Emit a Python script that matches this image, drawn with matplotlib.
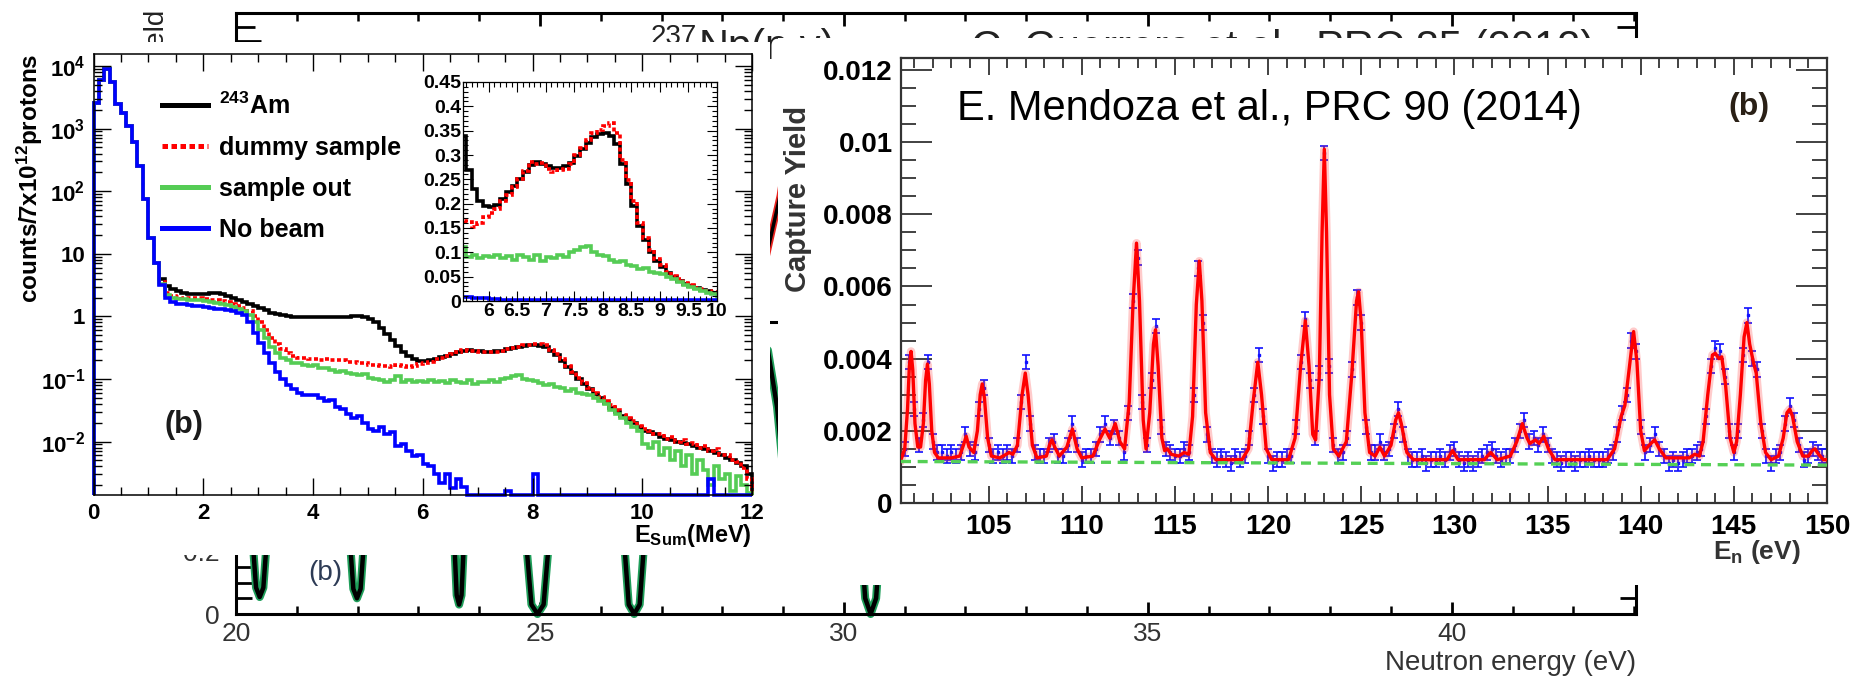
"""Composite slide figure: 243Am sum-energy spectra and a capture-yield scan
laid over a partly hidden 237Np(n,g) figure."""
from __future__ import annotations

import matplotlib

matplotlib.use("Agg")
import matplotlib.pyplot as plt
import numpy as np
from matplotlib.lines import Line2D
from matplotlib.patches import Rectangle

W, H = 1864, 677

# --- left panel: E_Sum spectra, 0.1 MeV bins from 0 to 12 MeV ---------------
ESUM_EDGES = np.linspace(0.0, 12.0, 121)
AM243 = [
    2600, 6000, 9000, 5500, 2500, 1800, 1100, 600, 250, 75,
    18, 7, 4.0, 3.1, 2.7, 2.5, 2.4, 2.3, 2.3, 2.3,
    2.3, 2.35, 2.35, 2.25, 2.1, 1.95, 1.8, 1.7, 1.6, 1.45,
    1.35, 1.25, 1.15, 1.1, 1.05, 1.0, 0.98, 0.97, 0.96, 0.96,
    0.96, 0.96, 0.96, 0.96, 0.96, 0.97, 0.99, 1.0, 1.0, 0.97,
    0.9, 0.8, 0.66, 0.52, 0.42, 0.34, 0.27, 0.23, 0.205, 0.195,
    0.193, 0.198, 0.21, 0.223, 0.236, 0.25, 0.265, 0.28, 0.286, 0.282,
    0.277, 0.274, 0.274, 0.278, 0.284, 0.298, 0.312, 0.325, 0.336, 0.343,
    0.346, 0.34, 0.322, 0.282, 0.24, 0.195, 0.155, 0.125, 0.1, 0.082,
    0.07, 0.058, 0.05, 0.042, 0.035, 0.03, 0.026, 0.023, 0.02, 0.017,
    0.015, 0.014, 0.013, 0.012, 0.011, 0.0105, 0.01, 0.0095, 0.009, 0.0085,
    0.008, 0.0075, 0.007, 0.0065, 0.006, 0.0055, 0.005, 0.0045, 0.004, 0.003,
]
DUMMY = [
    2600, 6000, 9000, 5500, 2500, 1800, 1100, 600, 250, 75,
    18, 7, 3.6, 2.4, 2.15, 2.05, 2.0, 2.0, 2.0, 1.95,
    1.9, 1.85, 1.8, 1.75, 1.68, 1.58, 1.47, 1.36, 1.2, 1.0,
    0.8, 0.6, 0.45, 0.36, 0.3, 0.26, 0.23, 0.22, 0.22, 0.21,
    0.21, 0.2, 0.21, 0.2, 0.2, 0.2, 0.19, 0.19, 0.18, 0.18,
    0.17, 0.17, 0.16, 0.16, 0.155, 0.165, 0.163, 0.153, 0.16, 0.172,
    0.18, 0.19, 0.205, 0.218, 0.235, 0.25, 0.268, 0.285, 0.282, 0.283,
    0.272, 0.265, 0.27, 0.272, 0.282, 0.3, 0.315, 0.33, 0.345, 0.352,
    0.36, 0.365, 0.345, 0.29, 0.248, 0.205, 0.16, 0.13, 0.105, 0.086,
    0.073, 0.06, 0.052, 0.045, 0.038, 0.032, 0.027, 0.024, 0.021, 0.018,
    0.016, 0.015, 0.013, 0.013, 0.011, 0.012, 0.010, 0.0105, 0.009, 0.0095,
    0.008, 0.0085, 0.007, 0.0075, 0.006, 0.0062, 0.005, 0.0048, 0.0038, 0.0025,
]
SAMPLE_OUT = [
    2600, 6000, 9000, 5500, 2500, 1800, 1100, 600, 250, 75,
    18, 7, 3.3, 2.2, 1.95, 1.9, 1.87, 1.85, 1.85, 1.8,
    1.75, 1.7, 1.65, 1.6, 1.5, 1.4, 1.3, 1.2, 1.05, 0.8,
    0.6, 0.45, 0.33, 0.26, 0.22, 0.2, 0.18, 0.18, 0.17, 0.16,
    0.17, 0.15, 0.15, 0.14, 0.13, 0.135, 0.125, 0.12, 0.115, 0.12,
    0.105, 0.1, 0.095, 0.09, 0.095, 0.11, 0.09, 0.095, 0.088, 0.092,
    0.09, 0.095, 0.088, 0.093, 0.085, 0.095, 0.09, 0.085, 0.095, 0.082,
    0.09, 0.088, 0.095, 0.09, 0.1, 0.105, 0.11, 0.114, 0.1, 0.095,
    0.092, 0.085, 0.08, 0.082, 0.075, 0.072, 0.065, 0.068, 0.06, 0.058,
    0.055, 0.05, 0.045, 0.04, 0.032, 0.028, 0.024, 0.02, 0.017, 0.015,
    0.009, 0.008, 0.01, 0.006, 0.008, 0.005, 0.007, 0.004, 0.006, 0.003,
    0.005, 0.0035, 0.002, 0.004, 0.0025, 0.003, 0.0016, 0.0028, 0.002, 0.0015,
]
NO_BEAM = [
    2600, 6000, 9000, 5500, 2500, 1800, 1100, 600, 250, 75,
    18, 7, 3.2, 2.0, 1.7, 1.6, 1.55, 1.5, 1.45, 1.45,
    1.4, 1.35, 1.3, 1.3, 1.25, 1.2, 1.15, 1.05, 0.8, 0.55,
    0.38, 0.26, 0.18, 0.13, 0.1, 0.08, 0.068, 0.06, 0.056, 0.055,
    0.055, 0.05, 0.045, 0.046, 0.036, 0.033, 0.028, 0.024, 0.026, 0.02,
    0.016, 0.015, 0.017, 0.013, 0.014, 0.0085, 0.009, 0.007, 0.0058, 0.006,
    0.0044, 0.004, 0.003, 0.0022, 0.003, 0.0018, 0.0025, 0.0019, 0, 0,
    0, 0, 0, 0, 0, 0.0016, 0, 0, 0, 0,
    0.003, 0, 0, 0, 0, 0, 0, 0, 0, 0,
    0, 0, 0, 0, 0, 0, 0, 0, 0, 0,
    0, 0, 0, 0, 0, 0, 0, 0, 0, 0,
    0, 0, 0.0025, 0, 0, 0, 0, 0, 0, 0,
]
LEGEND_LABELS = [r"$^{243}$Am", "dummy sample", "sample out", "No beam"]
LEFT_XTICKS = [0, 2, 4, 6, 8, 10, 12]
LEFT_XTICKLABELS = ["0", "2", "4", "6", "8", "10", "12"]
LEFT_YTICKS = [1e-2, 1e-1, 1, 10, 1e2, 1e3, 1e4]
LEFT_YTICKLABELS = [r"$10^{-2}$", r"$10^{-1}$", "1", "10",
                    r"$10^{2}$", r"$10^{3}$", r"$10^{4}$"]
INSET_XTICKS = [6, 6.5, 7, 7.5, 8, 8.5, 9, 9.5, 10]
INSET_XTICKLABELS = ["6", "6.5", "7", "7.5", "8", "8.5", "9", "9.5", "10"]
INSET_YTICKS = [0, 0.05, 0.1, 0.15, 0.2, 0.25, 0.3, 0.35, 0.4, 0.45]
INSET_YTICKLABELS = ["0", "0.05", "0.1", "0.15", "0.2", "0.25", "0.3",
                     "0.35", "0.4", "0.45"]

# --- right panel: capture yield (units of 1e-3), data every 0.25 eV ---------
YIELD_START, YIELD_STEP = 100.5, 0.25
YIELD_DATA = [
    1.5, 3.9, 2.6, 1.6, 2.3, 3.9, 1.7, 1.4,
    1.4, 1.3, 1.4, 1.3, 1.4, 1.9, 1.5, 1.4,
    2.6, 3.2, 1.6, 1.3, 1.4, 1.3, 1.4, 1.3,
    1.6, 2.8, 3.9, 2.2, 1.4, 1.3, 1.3, 1.6,
    1.7, 1.3, 1.3, 1.6, 2.2, 1.6, 1.2, 1.3,
    1.3, 1.5, 1.9, 2.2, 1.8, 2.1, 1.8, 1.4,
    2.5, 5.6, 6.8, 2.8, 1.6, 3.4, 4.9, 2.1,
    1.5, 1.4, 1.3, 1.3, 1.5, 1.4, 3.0, 6.5,
    5.0, 1.9, 1.3, 1.2, 1.3, 1.2, 1.1, 1.3,
    1.2, 1.3, 1.8, 3.0, 4.1, 2.4, 1.3, 1.1,
    1.2, 1.2, 1.3, 1.3, 2.1, 3.9, 5.1, 3.4,
    1.8, 3.6, 9.7, 3.8, 1.6, 1.3, 1.4, 1.8,
    3.7, 5.7, 5.0, 2.1, 1.4, 1.4, 1.7, 1.4,
    1.5, 2.0, 2.6, 1.9, 1.3, 1.2, 1.2, 1.3,
    1.1, 1.2, 1.2, 1.3, 1.2, 1.4, 1.5, 1.2,
    1.1, 1.2, 1.1, 1.2, 1.3, 1.4, 1.5, 1.3,
    1.2, 1.3, 1.3, 1.6, 2.0, 2.3, 1.7, 1.8,
    1.6, 1.9, 1.6, 1.3, 1.2, 1.1, 1.2, 1.2,
    1.1, 1.2, 1.2, 1.3, 1.2, 1.2, 1.2, 1.3,
    1.4, 1.9, 2.5, 3.0, 4.5, 4.2, 2.1, 1.4,
    1.6, 1.9, 1.5, 1.3, 1.1, 1.2, 1.1, 1.2,
    1.3, 1.3, 1.4, 1.5, 2.4, 3.8, 4.3, 4.2,
    3.5, 2.0, 1.4, 2.0, 4.1, 5.2, 4.0, 3.7,
    2.0, 1.3, 1.1, 1.3, 1.4, 2.2, 2.7, 2.3,
    1.6, 1.2, 1.3, 1.5, 1.4, 1.3, 1.3,
]
YIELD_ERR = 0.2
FIT_E = [
    100.3, 100.5, 100.65, 100.75, 100.84, 100.93, 101.05, 101.2, 101.35, 101.5,
    101.62, 101.72, 101.82, 101.95, 102.1, 102.3, 103.0, 103.45, 103.65, 103.8,
    103.95, 104.2, 104.4, 104.55, 104.66, 104.78, 104.95, 105.15, 105.6, 105.95,
    106.1, 106.3, 106.55, 106.8, 106.97, 107.12, 107.35, 107.6, 108.1, 108.3,
    108.4, 108.55, 108.8, 109.2, 109.5, 109.75, 110.0, 110.6, 110.95, 111.25,
    111.5, 111.8, 112.05, 112.3, 112.55, 112.75, 112.94, 113.1, 113.3, 113.45,
    113.65, 113.85, 113.96, 114.1, 114.3, 114.45, 114.6, 114.8, 115.2, 115.5,
    115.75, 115.95, 116.15, 116.31, 116.45, 116.65, 116.9, 117.2, 118.6, 118.95,
    119.2, 119.45, 119.65, 119.9, 120.2, 121.1, 121.45, 121.75, 122.0, 122.2,
    122.4, 122.55, 122.75, 122.9, 123.02, 123.14, 123.3, 123.5, 123.8, 124.2,
    124.5, 124.75, 124.86, 125.0, 125.2, 125.45, 125.75, 126.0, 126.25, 126.6,
    126.85, 127.0, 127.15, 127.45, 127.8, 129.6, 129.9, 130.2, 131.6, 131.95,
    132.3, 133.0, 133.35, 133.65, 133.9, 134.05, 134.35, 134.55, 134.8, 135.05,
    135.4, 138.2, 138.6, 138.95, 139.15, 139.4, 139.62, 139.8, 140.0, 140.2,
    140.45, 140.75, 141.0, 141.35, 142.6, 142.9, 143.15, 143.35, 143.6, 143.85,
    144.0, 144.2, 144.35, 144.55, 144.8, 145.0, 145.15, 145.35, 145.55, 145.7,
    145.85, 146.05, 146.2, 146.45, 146.7, 147.0, 147.4, 147.65, 147.85, 148.0,
    148.15, 148.4, 148.7, 149.0, 149.2, 149.35, 149.55, 149.8, 150.0,
]
FIT_Y = [
    1.2, 1.5, 2.6, 3.8, 4.2, 3.7, 2.2, 1.55, 1.55, 2.2,
    3.4, 3.85, 3.3, 2.0, 1.4, 1.25, 1.25, 1.3, 1.6, 1.85,
    1.55, 1.4, 2.0, 3.0, 3.3, 2.9, 1.8, 1.3, 1.25, 1.35,
    1.4, 1.35, 1.6, 3.0, 3.6, 3.0, 1.6, 1.25, 1.3, 1.65,
    1.75, 1.55, 1.3, 1.55, 2.05, 1.5, 1.25, 1.3, 1.75, 2.05,
    1.8, 2.2, 1.7, 1.5, 2.8, 5.5, 7.2, 5.6, 2.3, 1.5,
    2.5, 4.4, 4.8, 3.8, 1.8, 1.45, 1.5, 1.35, 1.3, 1.4,
    1.35, 2.4, 5.5, 6.7, 5.6, 2.5, 1.4, 1.2, 1.2, 1.5,
    2.8, 3.9, 3.0, 1.5, 1.2, 1.2, 1.8, 3.8, 5.05, 3.8,
    1.9, 1.75, 3.5, 7.5, 9.8, 7.5, 3.0, 1.5, 1.3, 1.7,
    3.6, 5.6, 5.85, 5.0, 2.5, 1.4, 1.3, 1.55, 1.3, 1.6,
    2.3, 2.5, 2.2, 1.4, 1.2, 1.2, 1.45, 1.2, 1.2, 1.4,
    1.2, 1.3, 1.7, 2.2, 1.8, 1.65, 1.75, 1.65, 1.85, 1.5,
    1.2, 1.2, 1.5, 2.4, 2.7, 3.8, 4.75, 3.9, 2.0, 1.45,
    1.6, 1.75, 1.5, 1.25, 1.25, 1.35, 1.3, 1.7, 3.0, 4.1,
    4.15, 4.0, 4.05, 3.3, 1.8, 1.4, 1.7, 3.0, 4.6, 5.0,
    4.4, 3.9, 3.6, 2.2, 1.4, 1.2, 1.3, 1.8, 2.5, 2.6,
    2.4, 1.7, 1.3, 1.3, 1.45, 1.5, 1.35, 1.2, 1.2,
]
BKG_E = [100.3, 150.0]
BKG_Y = [1.15, 1.05]
RIGHT_XTICKS = [105, 110, 115, 120, 125, 130, 135, 140, 145, 150]
RIGHT_XTICKLABELS = ["105", "110", "115", "120", "125", "130", "135",
                     "140", "145", "150"]
RIGHT_YTICKS = [0, 0.002, 0.004, 0.006, 0.008, 0.01, 0.012]
RIGHT_YTICKLABELS = ["0", "0.002", "0.004", "0.006", "0.008", "0.01", "0.012"]

# --- background 237Np figure (mostly hidden) -----------------------------------
NP_A_E = [20.0, 28.3, 28.55, 28.62, 28.69, 28.95, 29.3, 43.03]
NP_A_Y = [0.95, 0.95, 0.2, 0.1, 0.2, 0.45, 0.95, 0.95]
NP_B_E = [
    20.0, 20.26, 20.29, 20.33, 20.39, 20.45, 20.49, 20.52, 20.84,
    21.54, 21.86, 21.89, 21.93, 21.99, 22.05, 22.09, 22.12, 22.44,
    23.22, 23.58, 23.60, 23.63, 23.67, 23.71, 23.74, 23.76, 24.12,
    24.51, 24.75, 24.79, 24.86, 24.96, 25.06, 25.13, 25.17, 25.41,
    26.10, 26.36, 26.40, 26.46, 26.55, 26.64, 26.70, 26.74, 27.00,
    28.40, 28.75, 28.90, 29.02, 29.10, 29.18, 29.30, 29.45, 29.80,
    29.99, 30.26, 30.30, 30.35, 30.44, 30.53, 30.58, 30.62, 30.89,
    43.03,
]
NP_B_Y = [
    0.9, 0.5, 0.19, 0.084, 0.054, 0.084, 0.19, 0.5, 0.9,
    0.9, 0.5, 0.19, 0.08, 0.05, 0.08, 0.19, 0.5, 0.9,
    0.9, 0.5, 0.19, 0.06, 0.03, 0.06, 0.19, 0.5, 0.9,
    0.9, 0.5, 0.19, 0.03, 0.0, 0.03, 0.19, 0.5, 0.9,
    0.9, 0.5, 0.19, 0.03, 0.0, 0.03, 0.19, 0.5, 0.9,
    0.9, 0.84, 0.66, 0.42, 0.35, 0.42, 0.66, 0.84, 0.9,
    0.9, 0.5, 0.19, 0.05, 0.0, 0.05, 0.19, 0.5, 0.9,
    0.9,
]
BG_XTICKS = [20, 25, 30, 35, 40]
BG_XTICKLABELS = ["20", "25", "30", "35", "40"]
BG_YTICKS = [0, 0.2, 0.4, 0.6, 0.8]
# only the lowest labels of the covered axis are visible
BG_YTICKLABELS = ["0", "0.2", "", "", ""]


def px_rect(left, top, right, bottom):
    """Figure-fraction rectangle from pixel edges measured from the top-left."""
    return [left / W, 1 - bottom / H, (right - left) / W, (bottom - top) / H]


def fx(x):
    return x / W


def fy(y):
    return 1 - y / H


def draw_background(fig):
    grey = "#333333"
    bg_a = fig.add_axes(px_rect(236, 13, 1636, 322), zorder=0)
    bg_b = fig.add_axes(px_rect(236, 322, 1636, 614), zorder=0)

    bg_a.plot(NP_A_E, NP_A_Y, color="#e8231e", lw=5, solid_capstyle="round")
    bg_a.plot(NP_A_E, NP_A_Y, color="black", lw=2.5)
    bg_b.plot(NP_B_E, NP_B_Y, color="#1f9e5a", lw=5.8, clip_on=False,
              solid_joinstyle="round")
    bg_b.plot(NP_B_E, NP_B_Y, color="black", lw=3.2, clip_on=False,
              solid_joinstyle="round")

    for a in (bg_a, bg_b):
        a.set_xlim(20, 43.03)
        a.set_facecolor("none")
        a.set_xticks(np.arange(20, 43.5, 1), minor=True)
        for s in a.spines.values():
            s.set_linewidth(2.2)
    bg_a.set_ylim(0, 1.1)
    bg_b.set_ylim(0, 0.93)
    bg_a.spines["bottom"].set_visible(False)

    bg_a.set_xticks(BG_XTICKS)
    bg_a.set_yticks([0.2, 0.4, 0.6, 0.8, 1.0])
    bg_a.set_yticks(np.arange(0, 1.11, 0.05), minor=True)
    bg_a.tick_params(axis="x", which="both", direction="in", bottom=False,
                     top=True, labelbottom=False)
    bg_a.tick_params(axis="x", which="major", length=9, width=2)
    bg_a.tick_params(axis="x", which="minor", length=6, width=1.8)
    bg_a.tick_params(axis="y", which="both", direction="in", left=True,
                     right=True, labelleft=False, width=2)
    bg_a.tick_params(axis="y", which="major", length=18)
    bg_a.tick_params(axis="y", which="minor", length=14)

    bg_b.set_xticks(BG_XTICKS)
    bg_b.set_xticklabels(BG_XTICKLABELS, fontsize=19, color=grey)
    bg_b.set_yticks(BG_YTICKS)
    bg_b.set_yticklabels(BG_YTICKLABELS, fontsize=19, color=grey)
    bg_b.set_yticks(np.arange(0, 0.91, 0.05), minor=True)
    bg_b.tick_params(axis="x", which="both", direction="in", top=False)
    bg_b.tick_params(axis="x", which="major", length=9, width=2, pad=6)
    bg_b.tick_params(axis="x", which="minor", length=6, width=1.8)
    bg_b.tick_params(axis="y", which="both", direction="in", left=True,
                     right=True, width=2)
    bg_b.tick_params(axis="y", which="major", length=29, pad=12)
    bg_b.tick_params(axis="y", which="minor", length=11.5)

    bg_b.text(1.0, -0.168, "Neutron energy (eV)", transform=bg_b.transAxes,
              ha="right", va="center", fontsize=20, color=grey)
    bg_b.text(0.0636, 0.14, "(b)", transform=bg_b.transAxes, ha="center",
              va="center", fontsize=20, color="#2d3b55")

    # titles of the covered figure, only their top edge shows
    bg_a.text(fx(699), fy(59), "Np(n,\u03b3)", transform=fig.transFigure,
              ha="left", va="baseline", fontsize=30, color="#222222")
    bg_a.text(fx(697), fy(44), "237", transform=fig.transFigure,
              ha="right", va="baseline", fontsize=20, color="#222222")
    bg_a.text(fx(971), fy(60), "C. Guerrero et al., PRC 85 (2012)",
              transform=fig.transFigure, ha="left", va="baseline",
              fontsize=30, color="#222222")
    bg_a.text(fx(157), fy(10), "Capture yield", transform=fig.transFigure,
              rotation=90, ha="center", va="top", fontsize=20, color="#222222")


def draw_left(fig):
    ax = fig.add_axes(px_rect(93.5, 53.5, 752, 495), zorder=2)
    floor = 1.4e-3
    styles = [
        (AM243, "black", "-"),
        (DUMMY, "#ff0000", (0, (1.1, 0.7))),
        (SAMPLE_OUT, "#55cc55", "-"),
        (NO_BEAM, "#0000ff", "-"),
    ]
    for vals, color, ls in styles:
        ax.stairs(np.maximum(vals, floor), ESUM_EDGES, baseline=floor,
                  color=color, lw=2.6, linestyle=ls, clip_on=False)
    ax.set_yscale("log")
    ax.set_xlim(0, 12)
    ax.set_ylim(floor, 10 ** 4.2)

    ax.set_xticks(LEFT_XTICKS)
    ax.set_xticklabels(LEFT_XTICKLABELS, fontsize=16, fontweight="bold")
    ax.set_xticks(np.arange(0, 12.01, 0.5), minor=True)
    ax.set_yticks(LEFT_YTICKS)
    ax.set_yticklabels(LEFT_YTICKLABELS, fontsize=16, fontweight="bold")
    minor_y = [m * 10.0 ** e for e in range(-3, 5) for m in range(2, 10)]
    ax.set_yticks([v for v in minor_y if floor < v < 10 ** 4.2], minor=True)
    ax.yaxis.set_minor_formatter(plt.NullFormatter())
    ax.tick_params(which="both", direction="in", top=True, right=True, width=1)
    ax.tick_params(which="major", length=12, pad=6)
    ax.tick_params(which="minor", length=6)
    for s in ax.spines.values():
        s.set_linewidth(1.1)

    ax.text(-0.097, 0.999, r"counts/7x10$^{12}$protons", transform=ax.transAxes,
            rotation=90, ha="center", va="top", fontsize=17.5, fontweight="bold")
    ax.text(1.0, -0.091, r"E$_{\rm Sum}$(MeV)", transform=ax.transAxes,
            ha="right", va="center", fontsize=17, fontweight="bold")
    ax.text(0.137, 0.159, "(b)", transform=ax.transAxes, ha="center",
            va="center", fontsize=22, fontweight="bold", color="#1a1a1a")

    handles = [Line2D([], [], color=c, lw=3.6, linestyle=ls) for _, c, ls in styles]
    ax.legend(handles, LEGEND_LABELS, loc="upper left",
              bbox_to_anchor=(0.104, 0.912), frameon=False,
              prop={"size": 18, "weight": "bold"}, handlelength=1.85,
              handletextpad=0.45, labelspacing=0.68, borderpad=0,
              borderaxespad=0)

    # zoomed inset 5.5-10 MeV on a linear scale
    axi = fig.add_axes(px_rect(463, 82, 717, 301), zorder=3)
    for vals, color, ls in styles:
        axi.stairs(np.maximum(vals, floor), ESUM_EDGES, baseline=floor,
                   color=color, lw=2.6, linestyle=ls)
    axi.set_xlim(5.55, 10)
    axi.set_ylim(0, 0.45)
    axi.set_xticks(INSET_XTICKS)
    axi.set_xticklabels(INSET_XTICKLABELS, fontsize=14, fontweight="bold")
    axi.set_xticks(np.arange(5.6, 10.01, 0.1), minor=True)
    axi.set_yticks(INSET_YTICKS)
    axi.set_yticklabels(INSET_YTICKLABELS, fontsize=14, fontweight="bold")
    axi.set_yticks(np.arange(0, 0.451, 0.01), minor=True)
    axi.tick_params(which="both", direction="in", top=True, right=True,
                    width=0.8, pad=1.5)
    axi.tick_params(which="major", length=7)
    axi.tick_params(which="minor", length=3.5)
    for s in axi.spines.values():
        s.set_linewidth(0.9)


def draw_right(fig):
    dark = "#333333"
    ax = fig.add_axes(px_rect(901, 58, 1827, 503), zorder=2)
    en = YIELD_START + YIELD_STEP * np.arange(len(YIELD_DATA))
    ax.errorbar(en, np.array(YIELD_DATA) * 1e-3, yerr=YIELD_ERR * 1e-3,
                fmt="s", ms=1.8, color="#1010ff", ecolor="#1010ff",
                elinewidth=1.2, capsize=3, capthick=1.2, zorder=2)
    fit_y = np.array(FIT_Y) * 1e-3
    ax.plot(FIT_E, fit_y, color="#ff3030", lw=6, alpha=0.25, zorder=3)
    ax.plot(FIT_E, fit_y, color="#ff0000", lw=2.4, zorder=4)
    ax.plot(BKG_E, np.array(BKG_Y) * 1e-3, color="#55d055", lw=2.4,
            linestyle=(0, (3, 2)), zorder=5)

    ax.set_xlim(100.3, 150)
    ax.set_ylim(0, 0.01233)
    ax.set_xticks(RIGHT_XTICKS)
    ax.set_xticklabels(RIGHT_XTICKLABELS, fontsize=20, fontweight="bold")
    ax.set_xticks(np.arange(101, 150.5, 1), minor=True)
    ax.set_yticks(RIGHT_YTICKS)
    ax.set_yticklabels(RIGHT_YTICKLABELS, fontsize=20, fontweight="bold")
    ax.set_yticks(np.arange(0, 0.01233, 0.0005), minor=True)
    ax.tick_params(which="both", direction="in", top=True, right=True,
                   width=1.3, color=dark)
    ax.tick_params(axis="x", which="major", length=12, pad=8)
    ax.tick_params(axis="x", which="minor", length=7)
    ax.tick_params(axis="y", which="major", length=22, pad=6)
    ax.tick_params(axis="y", which="minor", length=11)
    for s in ax.spines.values():
        s.set_linewidth(1.6)
        s.set_color(dark)

    ax.text(0.0605, 0.93, "E. Mendoza et al., PRC 90 (2014)",
            transform=ax.transAxes, ha="left", va="top", fontsize=30)
    ax.text(0.916, 0.889, "(b)", transform=ax.transAxes, ha="center",
            va="center", fontsize=23, fontweight="bold", color="#2a2016")
    ax.text(-0.111, 0.892, "Capture Yield", transform=ax.transAxes,
            rotation=90, ha="center", va="top", fontsize=21, fontweight="bold",
            color=dark)
    ax.text(0.972, -0.11, r"E$_{\rm n}$ (eV)", transform=ax.transAxes,
            ha="right", va="center", fontsize=19, fontweight="bold", color=dark)


def build_figure():
    plt.rcParams["font.family"] = ["Liberation Sans", "DejaVu Sans"]
    plt.rcParams["mathtext.fontset"] = "custom"
    plt.rcParams["mathtext.rm"] = "Liberation Sans:bold"
    plt.rcParams["mathtext.it"] = "Liberation Sans:bold:italic"
    plt.rcParams["mathtext.bf"] = "Liberation Sans:bold"

    fig = plt.figure(figsize=(W / 100, H / 100), dpi=100)
    fig.patch.set_facecolor("white")

    draw_background(fig)

    # white panels pasted on top of the old figure
    for left, top, right, bottom in [(0, 42, 770, 555), (778, 38, W, 585)]:
        fig.add_artist(Rectangle((fx(left), fy(bottom)), (right - left) / W,
                                 (bottom - top) / H, transform=fig.transFigure,
                                 facecolor="white", edgecolor="none", zorder=1))

    draw_left(fig)
    draw_right(fig)
    fig.savefig("out.png", dpi=100, facecolor="white")


if __name__ == "__main__":
    build_figure()
